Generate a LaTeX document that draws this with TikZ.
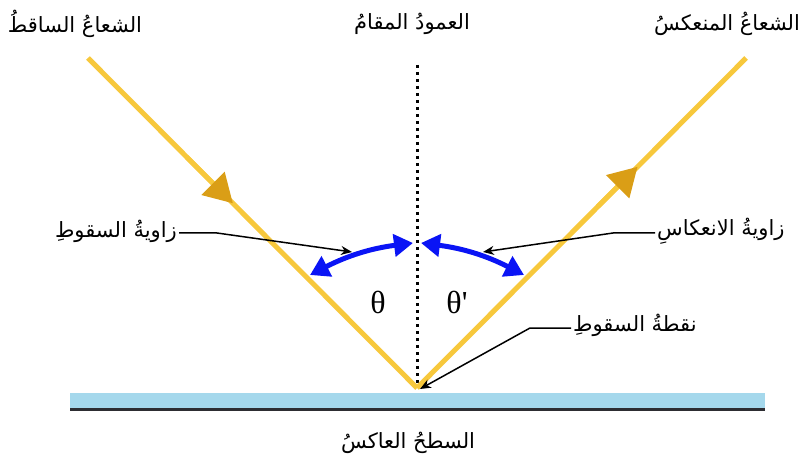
\documentclass[tikz,border=0pt]{standalone}
\usepackage{fontspec}
\usetikzlibrary{arrows.meta,calc}
\TeXXeTstate=1
\newfontfamily\arabicfont[Script=Arabic]{DejaVu Sans}
\newfontfamily\thetafont{Liberation Serif}
\definecolor{raycol}{RGB}{247,200,60}
\definecolor{tipcol}{RGB}{218,158,22}
\definecolor{mirrorcol}{RGB}{165,216,236}
\definecolor{mirrorline}{RGB}{45,45,50}
\definecolor{arcblue}{RGB}{10,20,245}
\newcommand{\arsize}{\fontsize{21}{24}\selectfont}
\newcommand{\thsize}{\fontsize{32}{35}\selectfont}
\tikzset{
  ray/.style={draw=raycol, line width=5pt},
  raytip/.style={draw=raycol, line width=5pt, -{Triangle[length=28pt,width=33pt,color=tipcol,line width=0pt]}},
  anglearc/.style={draw=arcblue, line width=5pt, {Triangle[length=19pt,width=22pt]}-{Triangle[length=19pt,width=22pt]}},
  leader/.style={draw=black, line width=1.5pt, -{Stealth[length=11pt,width=9pt]}},
  arlabel/.style={font=\arabicfont\arsize, inner sep=0pt},
  thetalabel/.style={font=\thetafont\thsize, inner sep=0pt},
}
\begin{document}
\begin{tikzpicture}[x=1pt,y=1pt]
\useasboundingbox (0,0) rectangle (806,461);
% mirror
\fill[mirrorcol] (70,53) rectangle (765,68);
\draw[mirrorline, line width=3pt] (70,51.5) -- (765,51.5);
% key points
\coordinate (P) at (417,73);
\coordinate (S1) at (88,403);
\coordinate (R1) at (746,403);
\coordinate (Ntop) at (417,396);
% normal
\draw[black, line width=3pt, dash pattern=on 3pt off 4pt] (Ntop) -- (P);
% rays
\draw[ray] (S1) -- (P);
\draw[ray] (P) -- (R1);
\draw[raytip] ($(S1)!0.30!(P)$) -- ($(S1)!0.44!(P)$);
\draw[raytip] ($(P)!0.55!(R1)$) -- ($(P)!0.67!(R1)$);
% angle arcs
\coordinate (L1) at (310,186);
\coordinate (L2) at (413,218);
\coordinate (M1) at (421,218);
\coordinate (M2) at (524,186);
\draw[anglearc] (L1) to[bend left=10] (L2);
\draw[anglearc] (M1) to[bend left=10] (M2);
% labels
\node[arlabel] (inc) at (75,437) {\beginR الشعاعُ الساقطُ\endR};
\node[arlabel] (nor) at (412,437) {\beginR العمودُ المقامُ\endR};
\node[arlabel] (ref) at (727,437) {\beginR الشعاعُ المنعكسُ\endR};
\node[arlabel, anchor=east] (ai) at (177,230) {\beginR زاويةُ السقوطِ\endR};
\node[arlabel, anchor=west] (ar) at (657,230) {\beginR زاويةُ الانعكاسِ\endR};
\node[arlabel, anchor=west] (pt) at (573,136) {\beginR نقطةُ السقوطِ\endR};
\node[arlabel] (surf) at (408,18) {\beginR السطحُ العاكسُ\endR};
\node[thetalabel] (th1) at (378,159) {θ};
\node[thetalabel] (th2) at (457,159) {θ'};
% leaders
\coordinate (kai) at (217,228);
\coordinate (tai) at (352,209);
\coordinate (kar) at (613,228);
\coordinate (tar) at (483,209);
\coordinate (kpt) at (530,133);
\coordinate (tpt) at (420,72);
\draw[leader] ($(ai.east |- kai)+(2,0)$) -- (kai) -- (tai);
\draw[leader] ($(ar.west |- kar)+(-2,0)$) -- (kar) -- (tar);
\draw[leader] ($(pt.west |- kpt)+(-2,0)$) -- (kpt) -- (tpt);
\end{tikzpicture}
\end{document}
